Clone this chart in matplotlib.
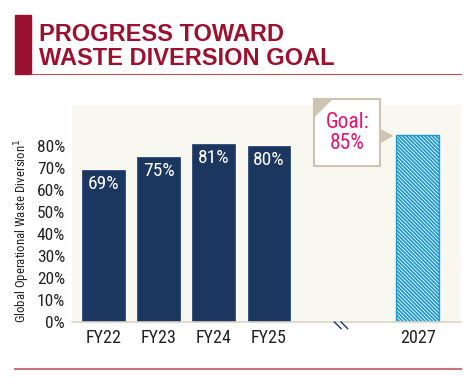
import matplotlib.pyplot as plt
from matplotlib.patches import Polygon, Rectangle
from matplotlib.lines import Line2D

# data
years = ['FY22', 'FY23', 'FY24', 'FY25']
values = [0.69, 0.75, 0.81, 0.80]
goal_label = '2027'
goal_value = 0.85
yticks = [0, 0.1, 0.2, 0.3, 0.4, 0.5, 0.6, 0.7, 0.8]

plt.rcParams['font.family'] = ['Roboto Condensed', 'DejaVu Sans']

red = '#9b1230'
navy = '#1b365f'
blue = '#1d9ad6'
tan = '#cdc5b4'
pink = '#e3156b'

fig = plt.figure(figsize=(4.76, 3.84), dpi=100)
fig.patch.set_facecolor('white')

# title block
fig.patches.append(Rectangle((15 / 476, 1 - 74 / 384), 16 / 476, 59 / 384,
                             transform=fig.transFigure, color=red))
fig.lines.append(Line2D([31 / 476, 461 / 476], [1 - 74 / 384, 1 - 74 / 384],
                        transform=fig.transFigure, color='#c0505f', lw=0.8))
fig.text(39 / 476, 1 - 23 / 384, 'PROGRESS TOWARD\nWASTE DIVERSION GOAL',
         ha='left', va='top', color=red, fontsize=17, fontweight='bold',
         family=['Liberation Sans', 'DejaVu Sans'], linespacing=1.05)
fig.lines.append(Line2D([15 / 476, 461 / 476], [1 - 369 / 384, 1 - 369 / 384],
                        transform=fig.transFigure, color='#c9737f', lw=1.5))

ax = fig.add_axes([72 / 476, 1 - 322 / 384, 389 / 476, 217 / 384])
ax.set_facecolor('#f8f7f0')

x = list(range(len(years)))
ax.bar(x, values, width=0.78, color=navy, edgecolor='#2c4a78', lw=0.6, zorder=2)
for xi, v in zip(x, values):
    ax.text(xi, v - 0.025, f'{round(v * 100)}%', ha='center', va='top',
            color='white', fontsize=14)

goal_x = 5.7
plt.rcParams['hatch.color'] = blue
plt.rcParams['hatch.linewidth'] = 1.3
ax.bar([goal_x], [goal_value], width=0.78, color='white', edgecolor=blue,
       hatch='\\' * 9, lw=1.0, zorder=2)

ax.set_xlim(-0.58, 6.49)
ax.set_ylim(0, 0.985)
ax.set_xticks(x + [goal_x])
ax.set_xticklabels(years + [goal_label], fontsize=13, color='#222222')
ax.set_yticks(yticks)
ax.set_yticklabels([f'{round(t * 100)}%' for t in yticks], fontsize=12.5, color='#222222')
ax.tick_params(axis='y', length=0, pad=5)
ax.tick_params(axis='x', length=0, pad=5)
for s in ['top', 'right', 'left']:
    ax.spines[s].set_visible(False)
ax.spines['bottom'].set_color('#d8d3c6')
ax.spines['bottom'].set_linewidth(1.2)

# axis break marks
for dx in (-0.06, 0.06):
    ax.plot([4.25 + dx, 4.37 + dx], [0.0, -0.03], color=navy, lw=1.0,
            clip_on=False, zorder=3)

# goal callout
box_l, box_r, box_t, box_b = 3.82, 5.02, 1.014, 0.709
ax.add_patch(Rectangle((box_l, box_b), box_r - box_l, box_t - box_b,
                       facecolor='white', edgecolor=tan, lw=1.5,
                       clip_on=False, zorder=4))
ax.add_patch(Polygon([(box_l, box_t), (box_l + 0.33, box_t), (box_l, box_t - 0.082)],
                     closed=True, color=tan, clip_on=False, zorder=5))
ax.add_patch(Polygon([(box_r, 0.873), (5.24, 0.845), (box_r, 0.815)],
                     closed=True, color=tan, clip_on=False, zorder=4))
ax.text((box_l + box_r) / 2, 0.857, f'Goal:\n{round(goal_value * 100)}%',
        ha='center', va='center', color=pink, fontsize=15.5, linespacing=1.0,
        zorder=6)

fig.text(22 / 476, 1 - 231 / 384, 'Global Operational Waste Diversion$^1$',
         rotation=90, ha='center', va='center', fontsize=9.2, color='#222222')

fig.savefig('out.png', dpi=100)
